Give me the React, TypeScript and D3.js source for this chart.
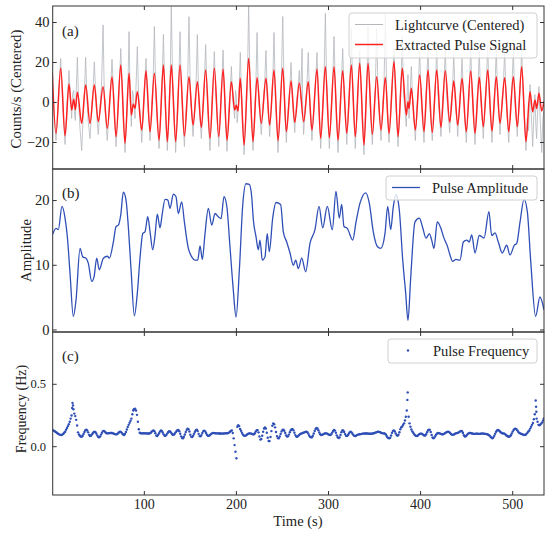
import React from 'react';
import { scaleLinear, line, curveMonotoneX, curveLinear } from 'd3';

// time axis and ticks
const timeDomain = [0.5, 534];
const timeTicks = [100, 200, 300, 400, 500];
const countTicks = [-20, 0, 20, 40];
const ampTicks = [0, 10, 20];
const freqTicks = [0, 0.5];

// extracted pulse signal: turning points [t, counts/s]
const pulseTurns: [number, number][] = [
  [0, 15], [4.1, -15.4], [9.2, 17.1], [13.9, -16.6], [18.2, 9.3], [21.1, -3.8], [23.3, 1.6], [25.1, -3.6],
  [27.3, 5.1], [32, -10.4], [36.3, 8.8], [41, -10.4], [45.7, 8.8], [50, -9.6], [55.2, 7.9], [59.8, -12.9],
  [64.9, 12.9], [69.3, -17.1], [74.4, 18.8], [79, -20.4], [83.4, 14.6], [85.9, -6.3], [88, -0.8], [89.9, -2.9],
  [92.4, 5.4], [97.2, -13.8], [101.8, 15.9], [106.2, -14.6], [110.9, 14.6], [116, -18.8], [120.7, 18.8], [125, -19.6],
  [129.3, 18.8], [134, -19.6], [138.8, 18.8], [143.5, -16.8], [148.5, 12.9], [152.9, -11.3], [157.6, 10.4], [161.9, -12.4],
  [166.6, 16.3], [171.3, -17.9], [176, 17.1], [180.8, -17.1], [185.5, 16.6], [189.8, -18.8], [194.5, 10.4], [198.1, -3.8],
  [199.9, -1.3], [201.7, -4.3], [204.2, 12.1], [208.3, -21.3], [213.3, 22.1], [218, -19.6], [222.4, 12.4], [227, -10.4],
  [232.1, 12.1], [236.1, -11.3], [240.8, 16.3], [245.2, -19.1], [250.3, 17.1], [254.2, -14.6], [259.3, 10.8], [263.3, -9.9],
  [268.3, 9.6], [273, -9.6], [278, 10.4], [282, -13.8], [287.5, 16.6], [291.5, -17.9], [296.6, 17.9], [300.9, -17.6],
  [306, 17.9], [310.3, -18.8], [315.4, 15.9], [319.8, -15.4], [324.8, 18.8], [329.1, -17.1], [333.9, 19.6], [338.5, -21.3],
  [342.9, 19.6], [347.6, -15.9], [352.3, 12.9], [357, -13.8], [361.7, 12.5], [365.7, -15.4], [371.1, 20.4], [375.5, -17.1],
  [380.1, 17.1], [384.5, -6.3], [386.3, 0.4], [387.4, -3], [389.9, 7.1], [394.3, -13.8], [399, 13.8], [403.7, -14.6],
  [408, 16.3], [412.7, -14.9], [417.5, 16.3], [422.1, -12.4], [426.8, 15.9], [431.6, -9.9], [436, 10.8], [440.3, -11.3],
  [445, 12.1], [449.6, -14.6], [454.4, 15.8], [459.1, -15.4], [463.7, 12.6], [468.1, -12.1], [472.9, 16.3], [477.5, -14.3],
  [482.2, 12.9], [486.2, -10.4], [491.3, 12.4], [495.7, -14.6], [500.7, 12.9], [505, -12.1], [509.8, 17.9], [514.4, -19.6],
  [518.8, 5.4], [521.7, -4.6], [524.2, 1.3], [526, -3], [528.5, 4.6], [531.5, -4.2], [534, 0.6],
];

// centered lightcurve [t, counts/s]
const lightcurve: [number, number][] = [
  [0, 10], [1.5, -2], [3, -12], [4.1, -19], [5.5, -8], [7, 5], [8.2, 14], [9.2, 22], [10.5, 8], [12, -6],
  [13.9, -21], [15, -10], [16.5, 2], [18.2, 16], [19.5, 4], [21.1, -8], [22, 4], [23.3, 6], [24.2, -6], [25.1, -9],
  [26.2, 8], [27.3, 22.6], [28.5, 2], [30, -12], [32, -24], [33.5, -8], [35, 6], [36.3, 22.6], [37.5, 4], [39, -9],
  [41, -18], [42.5, -6], [44, 4], [45.7, 20.4], [47, 6], [48.5, -8], [50, -16], [51.5, -4], [53.5, 8], [55.2, 38.8],
  [56.3, 10], [58, -8], [59.8, -19], [61.5, -6], [63.3, 6], [64.9, 21.6], [66.3, 8], [67.8, -6], [69.3, -22], [71, -8],
  [72.8, 8], [74.4, 27], [75.8, 10], [77.5, -8], [79, -25], [80.5, -10], [82, 4], [83.4, 35.4], [84.5, 6], [85.9, -12],
  [87, 6], [88, 4], [89.9, -8], [91, 8], [92.4, 27.9], [93.8, 4], [95.5, -6], [97.2, -20], [98.8, -6], [100.3, 8],
  [101.8, 22], [103.2, 4], [104.8, -8], [106.2, -19], [107.8, -4], [109.5, 10], [110.9, 38], [112.5, 4], [114.3, -10], [116, -23],
  [117.5, -8], [119.2, 8], [120.7, 34], [122.2, 6], [123.6, -10], [125, -24], [126.5, -8], [128, 10], [129.3, 48], [130.8, 10],
  [132.5, -6], [134, -25], [135.5, -10], [137.2, 8], [138.8, 35.4], [140.3, 6], [142, -8], [143.5, -22], [145, -6], [146.8, 6],
  [148.5, 42.9], [150, 4], [151.5, -6], [152.9, -17], [154.5, -4], [156, 6], [157.6, 34], [159, 2], [160.5, -8], [161.9, -18],
  [163.5, -4], [165, 8], [166.6, 29], [168, 6], [169.6, -10], [171.3, -24], [172.8, -6], [174.5, 8], [176, 25.4], [177.5, 6],
  [179.2, -8], [180.8, -22], [182.3, -6], [184, 8], [185.5, 26.2], [187, 4], [188.3, -10], [189.8, -24.4], [191.3, -8], [193, 4],
  [194.5, 18], [196, 2], [198.1, -8], [199, 6], [199.9, 3], [200.8, -10], [201.7, -6], [203, 6], [204.2, 25], [205.7, 2],
  [207, -10], [208.3, -26], [210, -8], [211.8, 8], [213.3, 48.8], [214.8, 8], [216.5, -8], [218, -24], [219.5, -8], [221, 6],
  [222.4, 35], [224, 2], [225.5, -6], [227, -16], [228.7, -2], [230.5, 8], [232.1, 26], [233.5, 4], [234.8, -6], [236.1, -17],
  [237.6, -4], [239.3, 8], [240.8, 35], [242.3, 4], [243.8, -10], [245.2, -25], [246.8, -6], [248.6, 8], [250.3, 43], [251.8, 6],
  [253, -8], [254.2, -20], [255.8, -6], [257.6, 4], [259.3, 20], [260.8, 2], [262, -6], [263.3, -15], [265, -2], [266.7, 6],
  [268.3, 16], [269.8, 2], [271.3, 27], [272, -4], [273, -16], [274.7, -2], [276.3, 6], [278, 25], [279.5, 2], [280.8, -8],
  [282, -19], [283.8, -4], [285.7, 8], [287.5, 25], [289, 4], [290.2, -8], [291.5, -23], [293.2, -6], [295, 8], [296.6, 44.6],
  [298, 8], [299.5, -6], [300.9, -23], [302.6, -6], [304.4, 8], [306, 33], [307.5, 6], [309, -8], [310.3, -25], [312, -8],
  [313.7, 8], [315.4, 27], [317, 4], [318.4, -6], [319.8, -21], [321.5, -4], [323.2, 8], [324.8, 37], [326.3, 6], [327.7, -8],
  [329.1, -23], [330.7, -6], [332.3, 8], [333.9, 26], [335.5, 6], [337, -8], [338.5, -26], [340, -6], [341.5, 8], [342.9, 38],
  [344.5, 6], [346, -8], [347.6, -21], [349.2, -6], [350.8, 6], [352.3, 37], [353.8, 4], [355.4, -6], [357, -19], [358.6, -4],
  [360.2, 8], [361.7, 44], [363.2, 4], [364.4, -8], [365.7, -20], [367.5, -4], [369.3, 8], [371.1, 27], [372.6, 6], [374, -8],
  [375.5, -22], [377, -6], [378.6, 8], [380.1, 33], [381.5, 4], [383, -4], [384.5, -12], [385.5, 6], [386.3, 14], [387.4, -8],
  [388.6, 4], [389.9, 18], [391.4, 2], [392.8, -8], [394.3, -19], [395.8, -4], [397.4, 6], [399, 26], [400.5, 4], [402, -8],
  [403.7, -20], [405.2, -4], [406.6, 8], [408, 28], [409.5, 4], [411, -8], [412.7, -19], [414.2, -4], [416, 8], [417.5, 27],
  [419, 4], [420.5, -6], [422.1, -17], [423.6, -2], [425.2, 8], [426.8, 26], [428.3, 4], [430, -6], [431.6, -15], [433, -2],
  [434.6, 6], [436, 24], [437.6, 2], [439, -6], [440.3, -17], [441.8, -4], [443.5, 6], [445, 22], [446.5, 4], [448, -8],
  [449.6, -20], [451.2, -6], [452.8, 6], [454.4, 27], [456, 4], [457.5, -8], [459.1, -21], [460.6, -4], [462.2, 6], [463.7, 26],
  [465.2, 2], [466.6, -6], [468.1, -18], [469.6, -2], [471.3, 8], [472.9, 29], [474.4, 4], [476, -8], [477.5, -20], [479, -4],
  [480.6, 6], [482.2, 27], [483.6, 2], [485, -6], [486.2, -16], [488, -2], [489.6, 6], [491.3, 26], [492.8, 2], [494.2, -8],
  [495.7, -20], [497.3, -4], [499, 6], [500.7, 26], [502.2, 2], [503.6, -6], [505, -17], [506.6, -2], [508.2, 8], [509.8, 27],
  [511.3, 4], [512.8, -8], [514.4, -24], [515.8, -8], [517.3, -14], [518.8, 9], [520, -4], [521.7, -22], [523, -6], [524.2, 4],
  [525.2, -12], [526, -18], [527.3, -2], [528.5, 8], [530, -10], [531.5, -25], [532.8, -8], [534, -4],
];

// pulse amplitude [t, amplitude]
const amplitude: [number, number][] = [
  [0.5, 14.8], [4.1, 15.7], [6.6, 15.5], [10.6, 19.1], [13.9, 17.3], [16.4, 14.4], [19.3, 8.8], [22.9, 2.1], [25.8, 4.6], [30.2, 12.6],
  [33.1, 11.3], [36.7, 11.1], [39.2, 10.3], [42.9, 7.5], [45.4, 8.2], [48.3, 11.1], [51.1, 9.3], [55.5, 11.1], [59.8, 11.4], [62, 11.1],
  [66.4, 13.6], [69.3, 16], [71.8, 16.2], [74.4, 17.8], [77.2, 21.3], [80.1, 20.1], [82.6, 16], [85.6, 9.3], [89.2, 2.2], [92.4, 5.7],
  [95.3, 11.1], [98.3, 14.9], [100.8, 15.2], [103.7, 17.5], [106.2, 15.2], [109.1, 12.4], [111.6, 14.6], [114.1, 17.9], [117, 15.8], [119.5, 18],
  [122.5, 20.2], [125.4, 20.1], [127.9, 18.8], [131.5, 21], [134.4, 20.6], [136.9, 18], [140.6, 19.8], [143.5, 16.7], [147.8, 12.6], [151.5, 11.3],
  [155, 10.8], [158, 10.8], [160.5, 13], [163, 10.9], [165.9, 14.9], [169.5, 18.8], [173.2, 16.2], [176.8, 18], [180.3, 17.5], [183.3, 17.2],
  [186.5, 20.6], [189.5, 19.2], [193, 12.9], [196.6, 6.2], [199.6, 2], [203.2, 9.3], [206.8, 19.2], [210.4, 22.6], [214, 22.5], [216.6, 20.6],
  [218.4, 17], [221.3, 14.4], [223.8, 12.4], [225.6, 13.9], [228.1, 10.8], [231, 11.3], [233.5, 14.9], [235.7, 12.1], [239.4, 17.3], [243, 19.7],
  [248, 19.4], [250.9, 15.2], [254.6, 13.6], [258.2, 11.9], [261.8, 10], [264.4, 10.8], [267.2, 9.5], [270.9, 11.1], [275.2, 9], [279.9, 13.4],
  [285.3, 15.5], [289.7, 19.1], [293.7, 15.8], [298.7, 19.1], [304.1, 15.5], [308.1, 21.4], [311.7, 17.3], [314.3, 19.4], [316.8, 16], [320.4, 15.7],
  [326.3, 13.9], [329.9, 16.7], [334.2, 19.6], [340.4, 21.2], [344.3, 19.6], [348.6, 15.2], [353, 12.9], [356.7, 12.6], [361.3, 14.9], [364.3, 19.1],
  [367.5, 15.5], [370.4, 19.1], [373.3, 20.9], [376.9, 18.5], [380.6, 10.8], [383.8, 5.7], [386.3, 1.5], [389.3, 8.2], [393.9, 16.7], [398.6, 17.3],
  [402.3, 15.8], [405.9, 14.2], [409.5, 14.9], [412, 13.9], [414.5, 12.6], [418.1, 16.7], [421.8, 15.8], [425.4, 14.2], [429, 13], [431.9, 11.6],
  [434.8, 10.6], [438.4, 10.9], [442.8, 10.8], [446.4, 13.6], [450.1, 13.9], [452.9, 13.6], [455.5, 14.7], [459.1, 11.9], [463.7, 14.6], [468.9, 14.2],
  [474.2, 18.3], [477.2, 14.6], [480.8, 15], [484.4, 13.6], [488.7, 11.9], [493.5, 13.1], [497.1, 11.6], [501.8, 13.1], [504.4, 13.4], [508, 16.7],
  [512.3, 20.2], [515.9, 18.3], [519.5, 10.8], [524.9, 2.1], [529.6, 5.1], [534, 3.1],
];

// pulse frequency (Hz), one value per second from t = 0
const freqStep = 1;
const frequency = [
  0.134, 0.131, 0.127, 0.122, 0.117, 0.112, 0.106, 0.101, 0.097, 0.095,
  0.094, 0.097, 0.104, 0.112, 0.120, 0.135, 0.150, 0.165, 0.180, 0.200,
  0.225, 0.250, 0.350, 0.300, 0.265, 0.245, 0.215, 0.170, 0.115, 0.098,
  0.088, 0.082, 0.080, 0.088, 0.102, 0.118, 0.132, 0.137, 0.130, 0.115,
  0.095, 0.085, 0.088, 0.097, 0.108, 0.117, 0.120, 0.116, 0.104, 0.089,
  0.078, 0.076, 0.083, 0.097, 0.112, 0.125, 0.127, 0.122, 0.114, 0.108,
  0.107, 0.108, 0.109, 0.110, 0.110, 0.110, 0.107, 0.104, 0.101, 0.099,
  0.099, 0.104, 0.112, 0.118, 0.120, 0.115, 0.106, 0.098, 0.094, 0.102,
  0.118, 0.138, 0.158, 0.175, 0.192, 0.208, 0.225, 0.260, 0.290, 0.300,
  0.305, 0.290, 0.255, 0.200, 0.140, 0.112, 0.108, 0.107, 0.107, 0.108,
  0.108, 0.107, 0.107, 0.106, 0.106, 0.106, 0.107, 0.112, 0.120, 0.127,
  0.130, 0.124, 0.108, 0.089, 0.086, 0.095, 0.108, 0.121, 0.130, 0.126,
  0.114, 0.099, 0.088, 0.087, 0.095, 0.107, 0.118, 0.124, 0.122, 0.113,
  0.102, 0.096, 0.096, 0.104, 0.115, 0.126, 0.132, 0.134, 0.124, 0.104,
  0.083, 0.070, 0.068, 0.080, 0.098, 0.118, 0.135, 0.145, 0.140, 0.122,
  0.096, 0.079, 0.077, 0.088, 0.104, 0.120, 0.132, 0.137, 0.125, 0.103,
  0.085, 0.083, 0.093, 0.110, 0.125, 0.129, 0.123, 0.110, 0.096, 0.087,
  0.087, 0.092, 0.099, 0.105, 0.109, 0.110, 0.109, 0.108, 0.107, 0.107,
  0.107, 0.106, 0.106, 0.106, 0.105, 0.105, 0.106, 0.107, 0.107, 0.108,
  0.108, 0.110, 0.113, 0.120, 0.127, 0.130, 0.110, 0.067, 0.013, -0.040,
  -0.092, 0.160, 0.172, 0.165, 0.142, 0.128, 0.112, 0.098, 0.089, 0.087,
  0.089, 0.094, 0.100, 0.105, 0.107, 0.107, 0.105, 0.102, 0.100, 0.100,
  0.108, 0.121, 0.132, 0.133, 0.115, 0.082, 0.057, 0.062, 0.088, 0.120,
  0.146, 0.155, 0.145, 0.112, 0.072, 0.046, 0.045, 0.078, 0.125, 0.168,
  0.187, 0.180, 0.155, 0.118, 0.085, 0.069, 0.068, 0.082, 0.102, 0.122,
  0.134, 0.136, 0.128, 0.110, 0.091, 0.081, 0.083, 0.097, 0.116, 0.132,
  0.140, 0.141, 0.131, 0.112, 0.093, 0.082, 0.080, 0.085, 0.093, 0.100,
  0.105, 0.107, 0.110, 0.113, 0.116, 0.119, 0.120, 0.116, 0.105, 0.090,
  0.079, 0.075, 0.076, 0.088, 0.106, 0.126, 0.142, 0.150, 0.146, 0.132,
  0.114, 0.100, 0.094, 0.095, 0.099, 0.103, 0.106, 0.107, 0.107, 0.103,
  0.098, 0.095, 0.094, 0.100, 0.113, 0.126, 0.134, 0.129, 0.112, 0.091,
  0.076, 0.070, 0.075, 0.094, 0.116, 0.130, 0.130, 0.118, 0.101, 0.088,
  0.085, 0.092, 0.104, 0.115, 0.120, 0.115, 0.104, 0.093, 0.087, 0.086,
  0.089, 0.093, 0.097, 0.099, 0.100, 0.101, 0.103, 0.104, 0.105, 0.106,
  0.106, 0.106, 0.106, 0.105, 0.104, 0.104, 0.104, 0.105, 0.106, 0.108,
  0.110, 0.113, 0.116, 0.119, 0.120, 0.119, 0.116, 0.112, 0.109, 0.107,
  0.107, 0.107, 0.100, 0.088, 0.076, 0.069, 0.067, 0.072, 0.090, 0.112,
  0.127, 0.130, 0.122, 0.106, 0.093, 0.088, 0.096, 0.116, 0.140, 0.156,
  0.162, 0.175, 0.187, 0.210, 0.240, 0.290, 0.435, 0.240, 0.187, 0.160,
  0.138, 0.122, 0.112, 0.101, 0.092, 0.087, 0.085, 0.090, 0.097, 0.102,
  0.105, 0.105, 0.101, 0.094, 0.090, 0.090, 0.100, 0.116, 0.130, 0.137,
  0.135, 0.118, 0.094, 0.074, 0.068, 0.073, 0.086, 0.098, 0.106, 0.110,
  0.109, 0.106, 0.103, 0.100, 0.100, 0.101, 0.106, 0.111, 0.116, 0.119,
  0.120, 0.117, 0.110, 0.102, 0.097, 0.095, 0.097, 0.102, 0.106, 0.109,
  0.110, 0.113, 0.118, 0.123, 0.126, 0.124, 0.110, 0.092, 0.081, 0.083,
  0.092, 0.101, 0.107, 0.110, 0.110, 0.108, 0.106, 0.104, 0.103, 0.103,
  0.104, 0.105, 0.104, 0.103, 0.103, 0.104, 0.105, 0.106, 0.105, 0.104,
  0.103, 0.102, 0.101, 0.098, 0.094, 0.088, 0.080, 0.072, 0.068, 0.074,
  0.088, 0.104, 0.120, 0.130, 0.134, 0.131, 0.124, 0.116, 0.110, 0.107,
  0.107, 0.104, 0.099, 0.092, 0.086, 0.082, 0.080, 0.083, 0.092, 0.106,
  0.121, 0.134, 0.142, 0.145, 0.141, 0.131, 0.120, 0.111, 0.107, 0.104,
  0.101, 0.098, 0.095, 0.094, 0.096, 0.103, 0.112, 0.122, 0.130, 0.145,
  0.160, 0.175, 0.190, 0.220, 0.260, 0.370, 0.225, 0.200, 0.175, 0.172,
  0.178, 0.185, 0.195, 0.210, 0.227,
];

// extra off-grid samples inside the frequency excursions [t, Hz]
const freqSpikeDots: [number, number][] = [
  [21.6, 0.31], [22.6, 0.33], [88.5, 0.298], [385.6, 0.375], [525.4, 0.32], [525.7, 0.28],
];

const FONT = "'Liberation Serif', 'DejaVu Serif', serif";
const AXIS = '#333';
const INK = '#222';
const BLUE = '#2f4fb6';
const RED = '#ff2222';
const GREY = '#b4b8bd';
const L = 52.7, R = 544;
const panelTops = [6, 169, 332];
const panelBottoms = [169, 332, 495];

const fmtTick = (v: number, dec = 0) => (v < 0 ? '\u2212' : '') + Math.abs(v).toFixed(dec);

const Frame: React.FC<{ top: number; bottom: number; x: any; y: any; yTicks: number[]; yDec?: number; yFont?: number; yLabelEnd?: number; xLabels?: boolean }> = ({ top, bottom, x, y, yTicks, yDec = 0, yFont = 14.5, yLabelEnd = 49.5, xLabels = false }) => (
  <g>
    <rect x={L} y={top} width={R - L} height={bottom - top} fill="none" stroke={AXIS} strokeWidth={1} />
    {timeTicks.map(t => (
      <g key={'x' + t}>
        <line x1={x(t)} x2={x(t)} y1={bottom} y2={bottom - 4} stroke={AXIS} />
        <line x1={x(t)} x2={x(t)} y1={top} y2={top + 4} stroke={AXIS} />
        {xLabels && (
          <text x={x(t)} y={bottom + 14} textAnchor="middle" fontSize={14} fontFamily={FONT} fill={INK}>{t}</text>
        )}
      </g>
    ))}
    {yTicks.map(v => (
      <g key={'y' + v}>
        <line x1={L} x2={L + 4} y1={y(v)} y2={y(v)} stroke={AXIS} />
        <line x1={R} x2={R - 4} y1={y(v)} y2={y(v)} stroke={AXIS} />
        <text x={yLabelEnd} y={y(v) + yFont * 0.33} textAnchor="end" fontSize={yFont} fontFamily={FONT} fill={INK}>{fmtTick(v, yDec)}</text>
      </g>
    ))}
  </g>
);

export default function App() {
  const x = scaleLinear().domain(timeDomain).range([L, R]);
  const yA = scaleLinear().domain([-33.25, 48.25]).range([panelBottoms[0], panelTops[0]]);
  const yB = scaleLinear().domain([-0.31, 24.88]).range([panelBottoms[1], panelTops[1]]);
  const yC = scaleLinear().domain([-0.387, 0.919]).range([panelBottoms[2], panelTops[2]]);

  const greyPath = line<[number, number]>().x(d => x(d[0])).y(d => yA(d[1])).curve(curveLinear)(lightcurve) || '';
  const redPath = line<[number, number]>().x(d => x(d[0])).y(d => yA(d[1])).curve(curveMonotoneX)(pulseTurns) || '';
  const ampPath = line<[number, number]>().x(d => x(d[0])).y(d => yB(d[1])).curve(curveMonotoneX)(amplitude) || '';
  const freqDots: [number, number][] = frequency.map((v, i) => [i * freqStep, v] as [number, number]).concat(freqSpikeDots);

  return (
    <svg width={550} height={534} style={{ position: 'absolute', left: 0, top: 0, background: '#fff' }}>
      <defs>
        {panelTops.map((t, i) => (
          <clipPath id={'clip' + i} key={i}>
            <rect x={L} y={t} width={R - L} height={panelBottoms[i] - t} />
          </clipPath>
        ))}
      </defs>

      {/* (a) lightcurve + pulse */}
      <g clipPath="url(#clip0)">
        <path d={greyPath} fill="none" stroke={GREY} strokeWidth={0.8} />
        <path d={redPath} fill="none" stroke={RED} strokeWidth={1.5} />
      </g>
      <Frame top={panelTops[0]} bottom={panelBottoms[0]} x={x} y={yA} yTicks={countTicks} />
      <text x={62} y={36} fontSize={15} fontFamily={FONT} fill={INK}>(a)</text>
      <g>
        <rect x={349} y={13} width={188} height={45} rx={3} fill="#fff" fillOpacity={0.8} stroke="#d0d0d0" />
        <line x1={355} x2={383} y1={24.5} y2={24.5} stroke={GREY} strokeWidth={1} />
        <text x={395} y={29.5} fontSize={14.5} fontFamily={FONT} fill={INK}>Lightcurve (Centered)</text>
        <line x1={355} x2={383} y1={44.5} y2={44.5} stroke={RED} strokeWidth={1.5} />
        <text x={395} y={49.5} fontSize={14.5} fontFamily={FONT} fill={INK}>Extracted Pulse Signal</text>
      </g>
      <text transform="translate(20.5,89) rotate(-90)" textAnchor="middle" fontSize={14.8} fontFamily={FONT} fill={INK}>Counts/s (Centered)</text>

      {/* (b) amplitude */}
      <g clipPath="url(#clip1)">
        <path d={ampPath} fill="none" stroke={BLUE} strokeWidth={1.3} />
      </g>
      <Frame top={panelTops[1]} bottom={panelBottoms[1]} x={x} y={yB} yTicks={ampTicks} />
      <text x={62} y={198} fontSize={15} fontFamily={FONT} fill={INK}>(b)</text>
      <g>
        <rect x={386} y={176} width={151} height={24} rx={3} fill="#fff" fillOpacity={0.8} stroke="#d0d0d0" />
        <line x1={392} x2={420} y1={187.5} y2={187.5} stroke={BLUE} strokeWidth={1.3} />
        <text x={432} y={192.5} fontSize={14.5} fontFamily={FONT} fill={INK}>Pulse Amplitude</text>
      </g>
      <text transform="translate(31,250.5) rotate(-90)" textAnchor="middle" fontSize={14.7} fontFamily={FONT} fill={INK}>Amplitude</text>

      {/* (c) frequency */}
      <g clipPath="url(#clip2)">
        {freqDots.map((d, i) => (
          <circle key={i} cx={x(d[0])} cy={yC(d[1])} r={1.2} fill={BLUE} />
        ))}
      </g>
      <Frame top={panelTops[2]} bottom={panelBottoms[2]} x={x} y={yC} yTicks={freqTicks} yDec={1} yFont={12.5} yLabelEnd={46} xLabels />
      <text x={62} y={361} fontSize={15} fontFamily={FONT} fill={INK}>(c)</text>
      <g>
        <rect x={388} y={339} width={149} height={24} rx={3} fill="#fff" fillOpacity={0.8} stroke="#d0d0d0" />
        <circle cx={408} cy={350.5} r={1.2} fill={BLUE} />
        <text x={433} y={355.5} fontSize={14.5} fontFamily={FONT} fill={INK}>Pulse Frequency</text>
      </g>
      <text transform="translate(26,409) rotate(-90)" textAnchor="middle" fontSize={14} fontFamily={FONT} fill={INK}>Frequency (Hz)</text>
      <text x={298} y={525.5} textAnchor="middle" fontSize={14.6} fontFamily={FONT} fill={INK}>Time (s)</text>
    </svg>
  );
}
